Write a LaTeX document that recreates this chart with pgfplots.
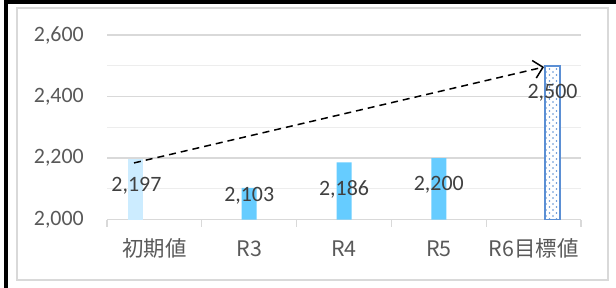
\documentclass[border=0pt]{standalone}
\usepackage{fontspec}
\setmainfont{Carlito}
\newfontfamily\jp{Noto Sans CJK JP}
\usepackage{pgfplots}
\pgfplotsset{compat=1.18}
\usetikzlibrary{patterns.meta,arrows.meta}
\definecolor{gridc}{HTML}{D9D9D9}
\definecolor{minorc}{HTML}{EDEDED}
\definecolor{txt}{HTML}{595959}
\definecolor{lbl}{HTML}{404040}
\definecolor{lb}{HTML}{CCECFF}
\definecolor{mb}{HTML}{66CCFF}
\definecolor{tb}{HTML}{5B8FD4}
\tikzdeclarepattern{name=sparsedots, type=uncolored,
  bottom left={(-1bp,-1bp)}, top right={(6bp,6bp)}, tile size={(7bp,6bp)},
  code={\fill (0,0) circle (0.8bp); \fill (3.5bp,3bp) circle (0.8bp);}}
\begin{document}
\begin{tikzpicture}
\path[use as bounding box] (0,0) rectangle (616bp,-288bp);
\fill[black] (4bp,0) rectangle (8bp,-288bp);
\fill[black] (4bp,0) rectangle (616bp,-4bp);
\draw[gridc, line width=1.5bp] (17bp,-8bp) rectangle (608bp,-280bp);
\begin{axis}[
  at={(107bp,-219.5bp)}, anchor=south west,
  scale only axis, width=474bp, height=184.5bp,
  xmin=-0.5, xmax=4.5, ymin=2000, ymax=2600,
  ytick={2000,2200,2400,2600},
  minor ytick={2100,2300,2500},
  ymajorgrids, yminorgrids,
  major grid style={gridc, line width=1.2bp},
  minor grid style={minorc, line width=1.2bp},
  axis x line*=bottom, axis y line*=left,
  y axis line style={draw=none},
  x axis line style={gridc, line width=1.2bp},
  ytick style={draw=none}, xtick style={draw=none},
  minor tick length=0pt,
  xtick={0,1,2,3,4},
  xticklabels={初期値,R3,R4,R5,R6目標値},
  extra x ticks={-0.5,0.5,1.5,2.5,3.5,4.5},
  extra x tick labels={},
  extra x tick style={xtick style={draw=gridc, line width=1.2bp}, major tick length=7bp, tick align=outside},
  xticklabel style={font=\jp\fontsize{21.5}{25}\selectfont, text=txt, anchor=base, inner sep=0pt, yshift=-37bp},
  yticklabel style={font=\fontsize{22}{26}\selectfont, text=txt, anchor=east, inner sep=0pt, xshift=-23bp},
  /pgf/number format/.cd, 1000 sep={,}, assume math mode=true,
]
\addplot[ybar, bar width=15bp, bar shift=-19bp, fill=lb, draw=none] coordinates {(0,2197)};
\addplot[ybar, bar width=15bp, bar shift=0bp, fill=mb, draw=none] coordinates {(1,2103) (2,2186) (3,2200)};
\addplot[ybar, bar width=15bp, bar shift=19bp, fill=white, draw=none] coordinates {(4,2500)};
\addplot[ybar, bar width=15bp, bar shift=19bp, pattern=sparsedots, pattern color=tb, draw=tb, line width=1.5bp] coordinates {(4,2500)};
\addplot[black, line width=1.5bp, dash pattern=on 7bp off 5bp, -{Straight Barb[length=9bp, width=18bp]}] coordinates {(-0.215,2184) (4.11,2496)};
\addplot[only marks, mark=none, nodes near coords, point meta=explicit symbolic, nodes near coords align=center,
  every node near coord/.append style={font=\fontsize{22}{26}\selectfont, text=lbl, inner sep=0pt}]
  table[meta=lab] {
x y lab
-0.19 2110 2,197
1.0 2078 2,103
2.0 2097 2,186
3.0 2114 2,200
4.2 2413 2,500
};
\end{axis}
\end{tikzpicture}
\end{document}
